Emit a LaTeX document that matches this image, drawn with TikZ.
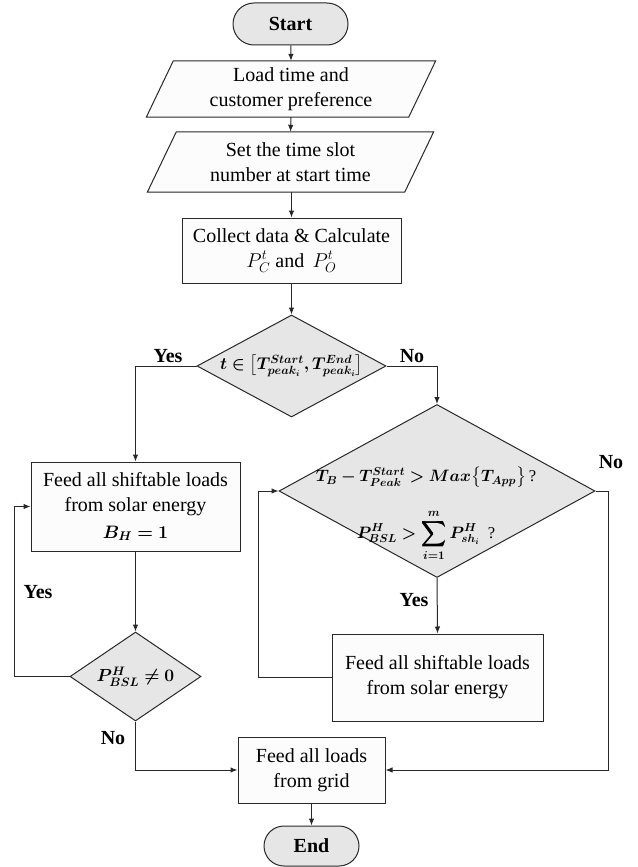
\RequirePackage{fix-cm}
\documentclass[tikz,border=0pt]{standalone}
\usepackage{amsmath,bm}
\usepackage{fontspec}
\setmainfont{Liberation Serif}
\usetikzlibrary{shapes.geometric,shapes.misc,arrows.meta,calc}
\definecolor{decfill}{RGB}{230,230,230}
\definecolor{boxfill}{RGB}{252,252,252}
\definecolor{edge}{RGB}{40,40,40}
\tikzset{
  base/.style={font=\fontsize{20}{25}\selectfont, align=center, inner sep=0pt},
  mathtxt/.style={base, font=\fontsize{17.5}{22}\selectfont},
  term/.style={base, rounded rectangle, draw=edge, line width=1pt, fill=decfill, font=\fontsize{20}{25}\selectfont\bfseries},
  procbox/.style={base, rectangle, draw=edge, line width=1pt, fill=boxfill},
  decbox/.style={base, diamond, draw=edge, line width=1pt, fill=decfill},
  iobox/.style={base, rectangle},
  lbl/.style={base, font=\fontsize{20}{25}\selectfont\bfseries},
  arr/.style={draw=edge, line width=1pt, -{Latex[length=7pt,width=5.5pt]}},
  ln/.style={draw=edge, line width=1pt}
}
\begin{document}
\begin{tikzpicture}[x=1pt,y=-1pt]
\useasboundingbox (0,0) rectangle (637,867);

% terminals
\node[term, minimum width=115pt, minimum height=42pt] (start) at (290.5,24) {Start};
\node[term, minimum width=95pt, minimum height=40pt] (stop) at (311.5,846) {End};

% input/output parallelograms
\node[iobox, minimum width=262pt, minimum height=56pt] (p1) at (291,89) {};
\draw[edge, line width=1pt, fill=boxfill]
  ($(p1.south west)+(-13.5,0)$) -- ($(p1.south east)+(-13.5,0)$) --
  ($(p1.north east)+(13.5,0)$) -- ($(p1.north west)+(13.5,0)$) -- cycle;
\node[base] (p1t) at (p1) {Load time and\\customer preference};

\node[iobox, minimum width=257pt, minimum height=60pt] (p2) at (290.5,162) {};
\draw[edge, line width=1pt, fill=boxfill]
  ($(p2.south west)+(-14.5,0)$) -- ($(p2.south east)+(-14.5,0)$) --
  ($(p2.north east)+(14.5,0)$) -- ($(p2.north west)+(14.5,0)$) -- cycle;
\node[base] (p2t) at (p2) {Set the time slot\\number at start time};

% process boxes
\node[procbox, minimum width=219pt, minimum height=65pt] (collect) at (291.5,250.5)
  {Collect data \& Calculate\\$P_C^t$ and\, $P_O^t$};
\node[procbox, minimum width=209pt, minimum height=89pt] (feedA) at (135.5,506.5)
  {Feed all shiftable loads\\from solar energy\\[2pt]{\fontsize{18}{22}\selectfont$\bm{B_H=1}$}};
\node[procbox, minimum width=211pt, minimum height=87pt] (feedB) at (437.5,677.5)
  {Feed all shiftable loads\\from solar energy};
\node[procbox, minimum width=147pt, minimum height=66pt] (grid) at (311.5,770)
  {Feed all loads\\from grid};

% decisions
\node[decbox, minimum width=189pt, minimum height=102pt] (d1) at (291.5,366) {};
\node[mathtxt, font=\fontsize{17}{20}\selectfont] (d1t) at (d1) {$\bm{t\in\left[T^{Start}_{peak_i},T^{End}_{peak_i}\right]}$};

\node[decbox, minimum width=316pt, minimum height=173pt] (d2) at (437,491) {};
\node[mathtxt, font=\fontsize{16.5}{20}\selectfont, anchor=north] (d2t) at (426,467)
  {$\bm{T_B-T^{Start}_{Peak}>Max\big\{T_{App}\big\}}$\,?\\[21pt]
   $\displaystyle\bm{P^H_{BSL}>\sum_{i=1}^{m}P^H_{sh_i}}$\ \ ?};

\node[decbox, minimum width=131pt, minimum height=89pt] (d3) at (135.5,676.5) {};
\node[mathtxt] (d3t) at (d3) {$\bm{P^H_{BSL}\neq 0}$};

% helper coordinates
\coordinate (loopA) at (14,676.5);
\coordinate (loopB) at (258,677.5);
\coordinate (noR) at (608,491);

% connectors
\draw[arr] (start) -- (p1.north);
\draw[arr] (p1.south) -- (p2.north);
\draw[arr] (p2.south -| collect.north) -- (collect.north);
\draw[arr] (collect) -- (d1.north);
\draw[arr] (d1.west) -| (feedA.north);
\draw[arr] (d1.east) -| (d2.north);
\draw[arr] (feedA) -- (d3.north);
\draw[arr] (d3.west) -- (loopA) |- (feedA.west);
\draw[arr] (d3.south) |- (grid.west);
\draw[arr] (d2.south) -- (feedB.north);
\draw[arr] (feedB.west) -- (loopB) |- (d2.west);
\draw[arr] (d2.east) -- (noR) |- (grid.east);
\draw[arr] (grid) -- (stop);

% labels
\node[lbl] (yes1) at (168,356) {Yes};
\node[lbl] (no1) at (412,356) {No};
\node[lbl] (yes2) at (414,600) {Yes};
\node[lbl] (no2) at (611,462) {No};
\node[lbl] (yes3) at (38,592) {Yes};
\node[lbl] (no3) at (113,738) {No};
\end{tikzpicture}
\end{document}
